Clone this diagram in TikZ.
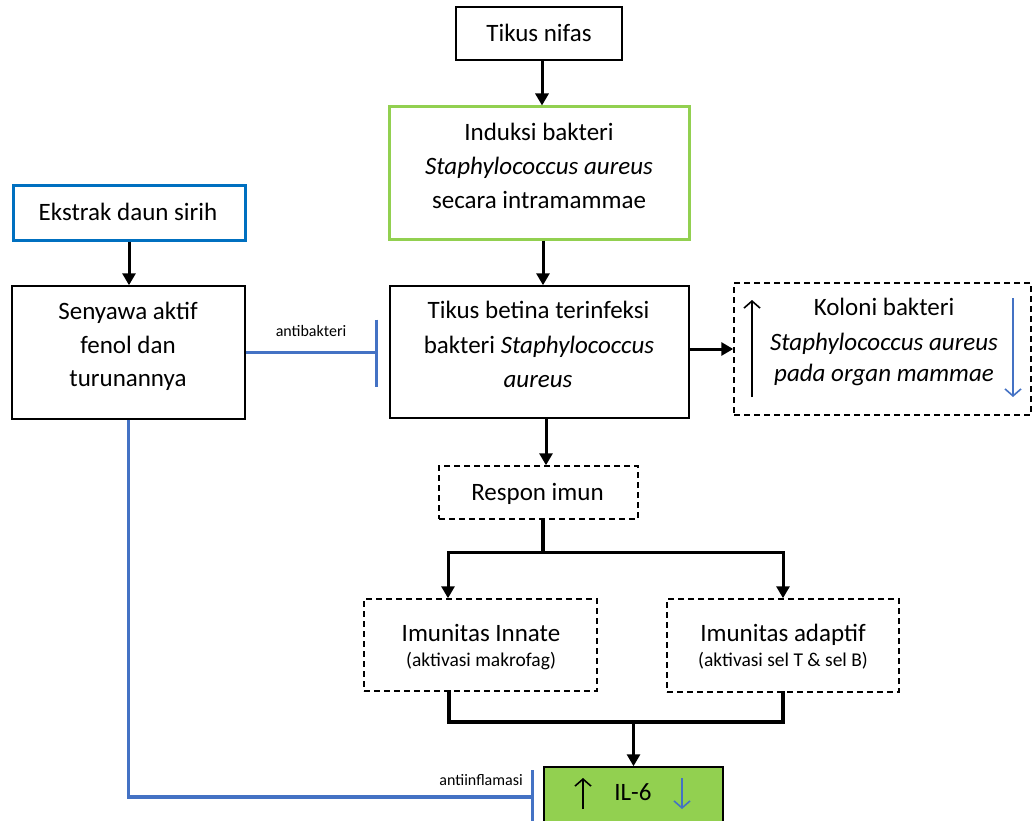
\documentclass[tikz,border=0pt]{standalone}
\usepackage{fontspec}
\setmainfont{Carlito}
\usetikzlibrary{arrows.meta}
\definecolor{lgreen}{HTML}{92D050}
\definecolor{bboxc}{HTML}{0070C0}
\definecolor{inhblue}{HTML}{4472C4}
\begin{document}
\begin{tikzpicture}[x=1pt,y=-1pt,
  box/.style={draw, line width=1.5pt, inner sep=0pt},
  greenbox/.style={draw=lgreen, line width=3pt, inner sep=0pt},
  bluebox/.style={draw=bboxc, line width=3pt, inner sep=0pt},
  dbox/.style={draw, line width=1.5pt, dash pattern=on 6pt off 4pt, inner sep=0pt},
  filledbox/.style={draw, fill=lgreen, line width=1.5pt, inner sep=0pt},
  txt/.style={anchor=base, inner sep=0pt, font=\fontsize{25}{30}\selectfont},
  subtxt/.style={anchor=base, inner sep=0pt, font=\fontsize{19.5}{24}\selectfont},
  labtxt/.style={anchor=base, inner sep=0pt, font=\fontsize{16}{20}\selectfont},
  arr/.style={line width=3pt, -{Triangle[width=13pt,length=12pt]}},
  conn/.style={line width=3.2pt, line cap=rect},
  inh/.style={draw=inhblue, line width=3.2pt},
  thinup/.style={line width=1.6pt, -{Straight Barb[length=7pt,width=16pt]}},
  thindown/.style={draw=inhblue, line width=1.6pt, -{Straight Barb[length=7pt,width=16pt]}}
]
\useasboundingbox (0,0) rectangle (1033,821);
\clip (0,0) rectangle (1033,821);

% boxes
\node[box, minimum width=166pt, minimum height=53pt] (nifas) at (539,33.5) {};
\node[greenbox, minimum width=300pt, minimum height=132pt] (induksi) at (539,173) {};
\node[bluebox, minimum width=232pt, minimum height=54pt] (ekstrak) at (129,213) {};
\node[box, minimum width=233pt, minimum height=133pt] (senyawa) at (128.5,352.5) {};
\node[box, minimum width=299pt, minimum height=132pt] (betina) at (539.5,352) {};
\node[dbox, minimum width=297pt, minimum height=132pt] (koloni) at (882.5,349) {};
\node[dbox, minimum width=199pt, minimum height=53pt] (respon) at (538.5,492.5) {};
\node[dbox, minimum width=233pt, minimum height=92pt] (innate) at (480.5,645) {};
\node[dbox, minimum width=232pt, minimum height=93pt] (adaptif) at (783,645.5) {};
\node[filledbox, minimum width=179pt, minimum height=60pt] (il6) at (633.5,797) {};

% texts
\node[txt] (t1) at (539,41.7) {Tikus nifas};
\node[txt] (t2a) at (539,140.7) {Induksi bakteri};
\node[txt] (t2b) at (539,175) {\textit{Staphylococcus aureus}};
\node[txt] (t2c) at (539,208.3) {secara intramammae};
\node[txt] (t3) at (128,220.7) {Ekstrak daun sirih};
\node[txt] (t4a) at (128,319.3) {Senyawa aktif};
\node[txt] (t4b) at (128,353.3) {fenol dan};
\node[txt] (t4c) at (128,386.7) {turunannya};
\node[txt] (t5a) at (538.5,318.3) {Tikus betina terinfeksi};
\node[txt] (t5b) at (539,353.3) {bakteri \textit{Staphylococcus}};
\node[txt] (t5c) at (538,387.3) {\textit{aureus}};
\node[txt] (t6a) at (884,315) {Koloni bakteri};
\node[txt] (t6b) at (884,350) {\textit{Staphylococcus aureus}};
\node[txt] (t6c) at (884,381.7) {\textit{pada organ mammae}};
\node[txt] (t7) at (537.5,500) {Respon imun};
\node[txt] (t8a) at (481,641) {Imunitas Innate};
\node[subtxt] (t8b) at (481,666) {(aktivasi makrofag)};
\node[txt] (t9a) at (783,641) {Imunitas adaptif};
\node[subtxt] (t9b) at (783,666) {(aktivasi sel T \& sel B)};
\node[txt] (t10) at (633,800) {IL-6};
\node[labtxt] (lab1) at (311,336.7) {antibakteri};
\node[labtxt, anchor=base east] (lab2) at (523,785) {antiinflamasi};

% main flow
\draw[arr] ([xshift=3pt]nifas.south) -- ([xshift=3pt]nifas.south |- induksi.north);
\draw[arr] ([xshift=4pt]induksi.south) -- ([xshift=4pt]induksi.south |- betina.north);
\draw[arr] (ekstrak.south) -- (ekstrak.south |- senyawa.north);
\draw[arr] (betina.east |- koloni.west) -- (koloni.west);
\path ([xshift=6.5pt]betina.south) coordinate (bs);
\draw[arr] (bs) -- (bs |- respon.north);

% split to immunity boxes
\coordinate (sp) at (543,552);
\draw[conn] ([xshift=4.5pt]respon.south) -- (sp);
\draw[arr] (sp) -| ([xshift=-32.5pt]innate.north);
\draw[arr] (sp) -| (adaptif.north);

% join to IL-6
\coordinate (jn) at (633.5,722);
\draw[conn, line join=miter] ([xshift=-31.5pt]innate.south) |- (adaptif.south |- jn) -- (adaptif.south);
\draw[arr] (jn) -- (il6.north);

% inhibitions
\path (betina.west |- senyawa.east) ++(-13,0) coordinate (bar1);
\draw[inh] (senyawa.east) -- (bar1);
\draw[inh] (bar1) ++(0,-33) -- ++(0,67);
\path (il6.west) ++(-11,0) coordinate (bar2);
\draw[inh, line join=miter] (senyawa.south) |- (bar2);
\draw[inh] (bar2) ++(0,-27) -- ++(0,60);

% up / down arrows
\draw[thinup] ([xshift=-130.5pt,yshift=-48pt]koloni.center) -- ([xshift=-130.5pt,yshift=49pt]koloni.center);
\draw[thindown] ([xshift=130.5pt,yshift=51pt]koloni.center) -- ([xshift=130.5pt,yshift=-48pt]koloni.center);
\draw[thinup] ([xshift=-50.5pt,yshift=-12pt]il6.center) -- ([xshift=-50.5pt,yshift=19pt]il6.center);
\draw[thindown] ([xshift=48.5pt,yshift=19pt]il6.center) -- ([xshift=48.5pt,yshift=-12pt]il6.center);
\end{tikzpicture}
\end{document}
